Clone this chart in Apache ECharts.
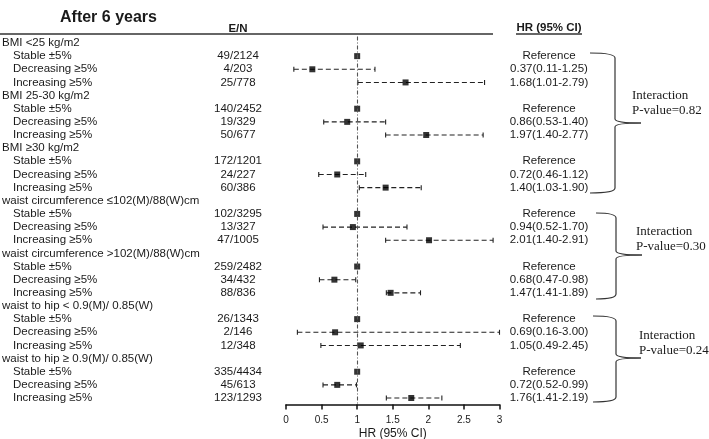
<!DOCTYPE html>
<html>
<head>
<meta charset="utf-8">
<script src="https://cdn.jsdelivr.net/npm/echarts@6/dist/echarts.min.js"></script>
<style>
  html, body { margin: 0; padding: 0; background: #fff; }
  #main { width: 709px; height: 439px; }
</style>
</head>
<body>
<div id="main"></div>
<script>
// subgroups and the three change categories inside each
var groups = ['BMI <25 kg/m2', 'BMI 25-30 kg/m2', 'BMI ≥30 kg/m2',
  'waist circumference ≤102(M)/88(W)cm', 'waist circumference >102(M)/88(W)cm',
  'waist to hip < 0.9(M)/ 0.85(W)', 'waist to hip ≥ 0.9(M)/ 0.85(W)'];
var changes = ['Stable ±5%', 'Decreasing ≥5%', 'Increasing ≥5%'];

// events / number at risk
var eventsN = ['49/2124', '4/203', '25/778',
  '140/2452', '19/329', '50/677',
  '172/1201', '24/227', '60/386',
  '102/3295', '13/327', '47/1005',
  '259/2482', '34/432', '88/836',
  '26/1343', '2/146', '12/348',
  '335/4434', '45/613', '123/1293'];

// hazard ratio and 95% CI (stable = reference)
var hr = [1, 0.37, 1.68, 1, 0.86, 1.97, 1, 0.72, 1.40, 1, 0.94, 2.01, 1, 0.68, 1.47, 1, 0.69, 1.05, 1, 0.72, 1.76];
var ciLow = [null, 0.11, 1.01, null, 0.53, 1.40, null, 0.46, 1.03, null, 0.52, 1.40, null, 0.47, 1.41, null, 0.16, 0.49, null, 0.52, 1.41];
var ciHigh = [null, 1.25, 2.79, null, 1.40, 2.77, null, 1.12, 1.90, null, 1.70, 2.91, null, 0.98, 1.89, null, 3.00, 2.45, null, 0.99, 2.19];

var xTicks = [0, 0.5, 1, 1.5, 2, 2.5, 3];
var interactionP = ['0.82', '0.30', '0.24'];

// build the rows: one header row per group, then the three changes
var rowLabel = [], rowIsHead = [], rowEN = [], rowHR = [];
var points = [], whiskers = [];
groups.forEach(function (g, gi) {
  rowLabel.push(g); rowIsHead.push(true); rowEN.push(''); rowHR.push('');
  changes.forEach(function (c, ci) {
    var k = gi * 3 + ci;
    var r = rowLabel.length;
    rowLabel.push(c); rowIsHead.push(false); rowEN.push(eventsN[k]);
    if (ciLow[k] == null) {
      rowHR.push('Reference');
    } else {
      rowHR.push(hr[k].toFixed(2) + '(' + ciLow[k].toFixed(2) + '-' + ciHigh[k].toFixed(2) + ')');
      whiskers.push([ciLow[k], ciHigh[k], r]);
    }
    points.push([hr[k], r]);
  });
});
var rowKeys = rowLabel.map(function (d, i) { return String(i); });

var txt = '#1a1a1a';
var sans = 'Liberation Sans, Arial, sans-serif';
var serif = 'Liberation Serif, Times New Roman, serif';

var chart = echarts.init(document.getElementById('main'));

// curly brace made of quadratic curves and lines
function braceParts(b) {
  var st = { fill: null, stroke: '#333', lineWidth: 1.2 };
  return [
    { type: 'bezierCurve', shape: { x1: b.left, y1: b.top, cpx1: b.x, cpy1: b.top, x2: b.x, y2: b.top + 5 }, style: st },
    { type: 'line', shape: { x1: b.x, y1: b.top + 5, x2: b.x, y2: b.mid - 4 }, style: st },
    { type: 'bezierCurve', shape: { x1: b.x, y1: b.mid - 4, cpx1: b.x, cpy1: b.mid, x2: b.tip, y2: b.mid }, style: st },
    { type: 'bezierCurve', shape: { x1: b.tip, y1: b.mid, cpx1: b.x, cpy1: b.mid, x2: b.x, y2: b.mid + 4 }, style: st },
    { type: 'line', shape: { x1: b.x, y1: b.mid + 4, x2: b.x, y2: b.bot - 5 }, style: st },
    { type: 'bezierCurve', shape: { x1: b.x, y1: b.bot - 5, cpx1: b.x, cpy1: b.bot, x2: b.left, y2: b.bot }, style: st }
  ];
}

// ty = centre of the first text line
var braces = [
  { top: 53, mid: 123, bot: 193, left: 590, x: 615, tip: 641, tx: 632, ty: 96 },
  { top: 213, mid: 255, bot: 299, left: 596, x: 616, tip: 642, tx: 636, ty: 232 },
  { top: 316, mid: 358, bot: 402, left: 593, x: 616, tip: 641, tx: 639, ty: 336 }
];

var graphics = [
  { type: 'text', x: 60, y: 18, style: { text: 'After 6 years', font: 'bold 16px ' + sans, fill: txt, verticalAlign: 'middle' } },
  { type: 'text', x: 238, y: 29, style: { text: 'E/N', font: 'bold 11.5px ' + sans, fill: txt, align: 'center', verticalAlign: 'middle' } },
  { type: 'text', x: 549, y: 28, style: { text: 'HR (95% CI)', font: 'bold 11.5px ' + sans, fill: txt, align: 'center', verticalAlign: 'middle' } },
  { type: 'line', shape: { x1: 0, y1: 34, x2: 493, y2: 34 }, style: { stroke: '#333', lineWidth: 1.5 } },
  { type: 'line', shape: { x1: 516, y1: 34, x2: 582, y2: 34 }, style: { stroke: '#333', lineWidth: 1.5 } }
];
braces.forEach(function (b, i) {
  graphics = graphics.concat(braceParts(b));
  graphics.push({ type: 'text', x: b.tx, y: b.ty - 7.5, style: { text: 'Interaction\nP-value=' + interactionP[i],
    font: '13px ' + serif, lineHeight: 15, fill: txt, verticalAlign: 'top' } });
});

var option = {
  backgroundColor: '#fff',
  animation: false,
  grid: { left: 286, right: 209.5, top: 36.4, bottom: 34.4, containLabel: false, outerBoundsMode: 'none' },
  xAxis: {
    type: 'value', min: 0, max: 3, interval: 0.5,
    name: 'HR (95% CI)', nameLocation: 'middle', nameGap: 23, nameMoveOverlap: false,
    nameTextStyle: { fontFamily: sans, fontSize: 12, color: txt },
    axisLine: { show: true, lineStyle: { color: '#111', width: 1.5 } },
    axisTick: { show: true, length: 5, lineStyle: { color: '#111', width: 1.5 } },
    axisLabel: { fontFamily: sans, fontSize: 10, color: txt, margin: 11,
      formatter: function (v) { return xTicks.indexOf(v) >= 0 ? String(v) : ''; } },
    splitLine: { show: false }
  },
  yAxis: [
    {
      type: 'category', data: rowKeys, inverse: true, position: 'left',
      axisLine: { show: false }, axisTick: { show: false }, splitLine: { show: false },
      axisLabel: {
        interval: 0, align: 'left', margin: 284,
        formatter: function (v, i) { return (rowIsHead[i] ? '{g|' : '{s|') + rowLabel[i] + '}'; },
        rich: {
          g: { fontFamily: sans, fontSize: 11.5, color: txt },
          s: { fontFamily: sans, fontSize: 11.5, color: txt, padding: [0, 0, 0, 11] }
        }
      }
    },
    {
      type: 'category', data: rowKeys, inverse: true, position: 'left',
      axisLine: { show: false }, axisTick: { show: false }, splitLine: { show: false },
      axisLabel: { interval: 0, align: 'center', margin: 48, fontFamily: sans, fontSize: 11.5, color: txt,
        formatter: function (v, i) { return rowEN[i]; } }
    },
    {
      type: 'category', data: rowKeys, inverse: true, position: 'right',
      axisLine: { show: false }, axisTick: { show: false }, splitLine: { show: false },
      axisLabel: { interval: 0, align: 'center', margin: 49.5, fontFamily: sans, fontSize: 11.5, color: txt,
        formatter: function (v, i) { return rowHR[i]; } }
    }
  ],
  series: [
    {
      type: 'custom',
      data: whiskers,
      encode: { x: [0, 1], y: 2 },
      z: 2,
      renderItem: function (params, api) {
        var y = api.value(2);
        var a = api.coord([api.value(0), y]);
        var b = api.coord([api.value(1), y]);
        var st = { stroke: '#222', lineWidth: 1.1 };
        return {
          type: 'group',
          children: [
            { type: 'line', shape: { x1: a[0], y1: a[1], x2: b[0], y2: b[1] }, style: { stroke: '#222', lineWidth: 1.1, lineDash: [5, 3] } },
            { type: 'line', shape: { x1: a[0], y1: a[1] - 2.5, x2: a[0], y2: a[1] + 2.5 }, style: st },
            { type: 'line', shape: { x1: b[0], y1: b[1] - 2.5, x2: b[0], y2: b[1] + 2.5 }, style: st }
          ]
        };
      }
    },
    {
      type: 'scatter',
      data: points,
      symbol: 'rect',
      symbolSize: 6,
      itemStyle: { color: '#000' },
      z: 4,
      markLine: {
        silent: true, symbol: 'none', label: { show: false },
        lineStyle: { color: '#555', width: 1.1, type: [4, 2, 1, 2] },
        data: [{ xAxis: 1 }]
      }
    }
  ],
  graphic: graphics
};
chart.setOption(option);
</script>
</body>
</html>
